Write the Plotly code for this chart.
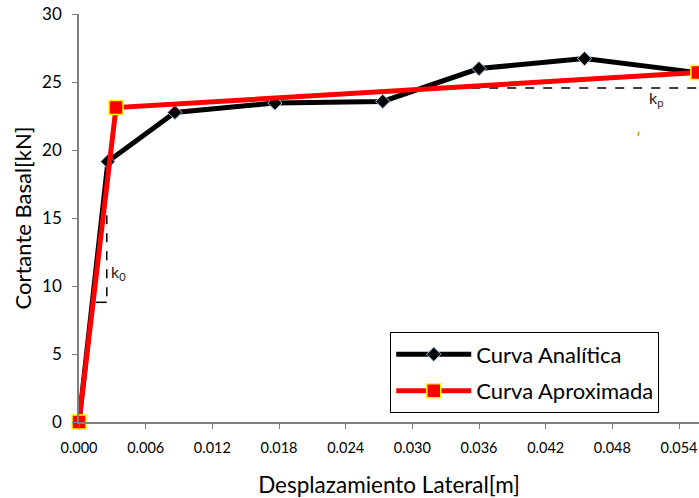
import plotly.graph_objects as go

# Data
analitica_x = [0.0, 0.0026, 0.00863, 0.01763, 0.02734, 0.0360, 0.0455, 0.0557]
analitica_y = [0.0, 19.15, 22.76, 23.45, 23.57, 25.99, 26.72, 25.69]
aprox_x = [0.0, 0.00333, 0.0557]
aprox_y = [0.0, 23.12, 25.69]
x_ticks = [0.000, 0.006, 0.012, 0.018, 0.024, 0.030, 0.036, 0.042, 0.048, 0.054]
y_ticks = [0, 5, 10, 15, 20, 25, 30]

# stiffness guide lines (dashed)
k0_vert_x = [0.0025, 0.0025]
k0_vert_y = [15.2, 8.8]
k0_hor_x = [0.0015, 0.0025]
k0_hor_y = [8.8, 8.8]
kp_x = [0.0353, 0.0558]
kp_y = [24.55, 24.55]

FONT = "Lato, 'Open Sans', sans-serif"

fig = go.Figure()

fig.add_trace(go.Scatter(x=k0_vert_x, y=k0_vert_y, mode="lines",
                         line=dict(color="black", width=1.5, dash="dash"),
                         showlegend=False, hoverinfo="skip"))
fig.add_trace(go.Scatter(x=k0_hor_x, y=k0_hor_y, mode="lines",
                         line=dict(color="black", width=1.5),
                         showlegend=False, hoverinfo="skip"))
fig.add_trace(go.Scatter(x=kp_x, y=kp_y, mode="lines",
                         line=dict(color="black", width=1.5, dash="dash"),
                         showlegend=False, hoverinfo="skip"))

fig.add_trace(go.Scatter(
    x=analitica_x, y=analitica_y, mode="lines+markers", name="Curva Analítica",
    legendgroup="a", cliponaxis=False,
    line=dict(color="black", width=5),
    marker=dict(symbol="diamond", size=11, color="black",
                line=dict(color="#9cc8f0", width=1)),
))
fig.add_trace(go.Scatter(
    x=aprox_x, y=aprox_y, mode="lines+markers", name="Curva Aproximada",
    legendgroup="b", cliponaxis=False,
    line=dict(color="#ff0000", width=5),
    marker=dict(symbol="square", size=14, color="#ff0000",
                line=dict(color="#ffff00", width=1.5)),
))

fig.add_annotation(x=0.0027, y=11.0, xref="x", yref="y", text="k<sub>0</sub>",
                   showarrow=False, xanchor="left",
                   font=dict(family=FONT, size=16, color="#222222"))
fig.add_annotation(x=0.0511, y=23.8, xref="x", yref="y", text="k<sub>p</sub>",
                   showarrow=False, xanchor="left",
                   font=dict(family=FONT, size=16, color="#222222"))
fig.add_shape(type="line", x0=0.0503, y0=21.05, x1=0.0504, y1=21.35,
              xref="x", yref="y", line=dict(color="#f08a00", width=1.5))

fig.update_layout(
    width=699, height=498,
    margin=dict(l=79, r=0, t=14, b=76),
    paper_bgcolor="white", plot_bgcolor="white",
    font=dict(family=FONT, color="black"),
    xaxis=dict(
        range=[0, 0.0558], tickvals=x_ticks,
        ticktext=[f"{v:.3f}" for v in x_ticks],
        automargin=False,
        showgrid=False, zeroline=False, showline=True,
        linecolor="#7f7f7f", linewidth=1.5,
        ticks="outside", ticklen=5, tickcolor="#7f7f7f",
        ticklabelstandoff=7,
        tickfont=dict(size=14.5, family=FONT),
        title=dict(text="Desplazamiento Lateral[m]", font=dict(size=22.5, family=FONT),
                   standoff=25),
    ),
    yaxis=dict(
        range=[0, 30], tickvals=y_ticks,
        automargin=False,
        showgrid=False, zeroline=False, showline=True,
        linecolor="#7f7f7f", linewidth=1.5,
        ticks="outside", ticklen=5, tickcolor="#7f7f7f",
        ticklabelstandoff=7,
        tickfont=dict(size=17, family=FONT),
        title=dict(text="Cortante Basal[kN]", font=dict(size=22, family=FONT),
                   standoff=4),
    ),
    legend=dict(
        x=0.502, y=0.021, xanchor="left", yanchor="bottom",
        xref="paper", yref="paper",
        bgcolor="white", bordercolor="black", borderwidth=1,
        font=dict(size=22, family=FONT),
        traceorder="grouped", tracegroupgap=5,
        itemwidth=75,
    ),
)

fig.write_html("out.html", config={"displayModeBar": False},
               post_script="document.body.style.margin='0';")
